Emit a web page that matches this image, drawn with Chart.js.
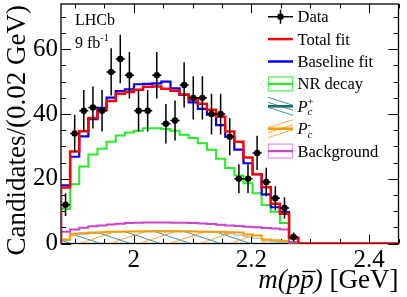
<!DOCTYPE html>
<html><head><meta charset="utf-8">
<script src="https://cdn.jsdelivr.net/npm/chart.js@4.4.0/dist/chart.umd.min.js"></script>
<style>html,body{margin:0;padding:0;background:#fff;}#wrap{width:407px;height:297px;}</style>
</head><body><div id="wrap"><canvas id="c" width="407" height="297"></canvas></div>
<script>
// ---- binning (GeV) ----
const binLow = 1.8765, binWidth = 0.0155;
// ---- tick labels ----
const xTickLabels = [2, 2.2, 2.4];
const yTickLabels = [0, 20, 40, 60];
const xMinorStep = 0.05, yMinorStep = 5;
// ---- data (candidates per bin) ----
const dataCounts = [12, 34, 41, 42, 41, 53, 57, 52, 41, 41, 52, 37, 38, 49, 45, 45, 40, 40, 33, 20, 20, 28, 19, 14, 11, 2];
const dataErrors = [3.5, 5.8, 6.4, 6.5, 6.4, 7.3, 7.5, 7.2, 6.4, 6.4, 7.2, 6.1, 6.2, 7.0, 6.7, 6.7, 6.3, 6.3, 5.7, 4.5, 4.5, 5.3, 4.4, 3.7, 3.3, 1.4];
// ---- fit components ----
const totalFit = [17.3, 28.4, 34.7, 38.8, 41.2, 44.0, 46.3, 46.8, 47.5, 48.4, 48.5, 47.8, 47.2, 46.0, 44.5, 43.2, 41.3, 39.2, 34.6, 31.4, 26.6, 21.4, 17.4, 12.3, 9.2, 1.7, 0, 0, 0, 0, 0, 0, 0, 0, 0, 0, 0];
const baselineFit = [18.0, 26.8, 33.1, 38.4, 41.9, 45.1, 47.1, 47.6, 49.2, 49.3, 49.5, 50.0, 47.9, 45.9, 43.6, 41.6, 39.8, 36.6, 33.0, 29.0, 24.8, 21.4, 15.2, 11.2, 9.7, 1.7];
const nrDecay = [10.7, 18.3, 23.8, 27.5, 29.3, 31.4, 33.4, 34.3, 34.8, 35.6, 35.6, 35.4, 34.8, 33.6, 32.6, 31.0, 29.0, 26.2, 23.3, 21.0, 18.6, 15.5, 11.9, 9.8, 6.3, 1.5];
const pcPlus = [0.9, 2.6, 2.9, 3.1, 3.3, 3.5, 3.6, 3.7, 3.8, 3.9, 4.0, 4.0, 4.0, 3.9, 3.8, 3.7, 3.5, 3.3, 3.0, 2.6, 2.2, 1.6, 0.8, 0.5, 0.3, 0.1];
const pcMinus = [1.2, 3.0, 3.2, 3.4, 3.5, 3.6, 3.6, 3.7, 3.7, 3.7, 3.7, 3.7, 3.7, 3.7, 3.7, 3.6, 3.6, 3.6, 3.5, 3.4, 2.8, 2.5, 1.2, 1.0, 0.8, 0.2];
const background = [3.6, 4.3, 4.9, 5.3, 5.6, 5.9, 6.1, 6.3, 6.4, 6.5, 6.5, 6.5, 6.4, 6.4, 6.3, 6.2, 6.0, 5.8, 5.6, 5.4, 5.2, 5.0, 4.8, 4.6, 4.3, 0.5];

const FONT = '"Liberation Serif", "Times New Roman", serif';

function stepPoints(vals) {
  const pts = [{x: binLow, y: 0}];
  vals.forEach((v, i) => {
    const a = binLow + i * binWidth, b = a + binWidth;
    pts.push({x: a, y: v}, {x: b, y: v});
  });
  pts.push({x: binLow + vals.length * binWidth, y: 0});
  return pts;
}
const dataPoints = dataCounts.map((v, i) => ({x: binLow + (i + 0.5) * binWidth, y: v}));

const mainCtx = document.getElementById('c').getContext('2d');
function hatch(color, up) {
  const c = document.createElement('canvas'); c.width = 30; c.height = 10;
  const g = c.getContext('2d'); g.strokeStyle = color; g.lineWidth = 1;
  g.beginPath();
  for (const off of [-30, 0, 30]) {
    if (up) { g.moveTo(off, 10); g.lineTo(off + 30, 0); }
    else { g.moveTo(off, 0); g.lineTo(off + 30, 10); }
  }
  g.stroke();
  return mainCtx.createPattern(c, 'repeat');
}
const tealHatch = hatch('#3a9898', false);
const orangeHatch = hatch('#ffa640', true);

const histLine = (label, vals, color, w, extra) => Object.assign({
  type: 'line', label, data: stepPoints(vals), borderColor: color, borderWidth: w,
  pointRadius: 0, tension: 0, fill: false, borderJoinStyle: 'miter'
}, extra || {});

const frameTicks = {
  id: 'frameTicks',
  beforeDatasetsDraw(chart) {
    const {ctx, chartArea: a, scales: {x, y}} = chart;
    ctx.save();
    ctx.strokeStyle = '#000'; ctx.lineWidth = 1.3;
    ctx.strokeRect(a.left, a.top, a.right - a.left, a.bottom - a.top);
    ctx.lineWidth = 1;
    ctx.beginPath();
    for (let k = Math.ceil(x.min / xMinorStep - 1e-9); k * xMinorStep <= x.max + 1e-9; k++) {
      const v = k * xMinorStep, px = Math.round(x.getPixelForValue(v)) + 0.5;
      const L = xTickLabels.some(t => Math.abs(t - v) < 1e-6) ? 9 : 4.5;
      ctx.moveTo(px, a.bottom); ctx.lineTo(px, a.bottom - L);
      ctx.moveTo(px, a.top); ctx.lineTo(px, a.top + L);
    }
    for (let k = Math.ceil(y.min / yMinorStep); k * yMinorStep <= y.max + 1e-9; k++) {
      const v = k * yMinorStep, py = Math.round(y.getPixelForValue(v)) + 0.5;
      const L = yTickLabels.includes(v) ? 10 : 5;
      ctx.moveTo(a.left, py); ctx.lineTo(a.left + L, py);
      ctx.moveTo(a.right, py); ctx.lineTo(a.right - L, py);
    }
    ctx.stroke();
    ctx.restore();
  }
};

const errorBars = {
  id: 'errorBars',
  afterDatasetsDraw(chart) {
    const {ctx, scales: {x, y}} = chart;
    ctx.save(); ctx.strokeStyle = '#000'; ctx.lineWidth = 1.5;
    ctx.beginPath();
    dataCounts.forEach((v, i) => {
      const xc = binLow + (i + 0.5) * binWidth;
      const px = x.getPixelForValue(xc);
      ctx.moveTo(px, y.getPixelForValue(v - dataErrors[i]));
      ctx.lineTo(px, y.getPixelForValue(v + dataErrors[i]));
      ctx.moveTo(x.getPixelForValue(xc - binWidth / 2), y.getPixelForValue(v));
      ctx.lineTo(x.getPixelForValue(xc + binWidth / 2), y.getPixelForValue(v));
    });
    ctx.stroke(); ctx.restore();
  }
};

const texts = {
  id: 'texts',
  afterDraw(chart) {
    const {ctx, chartArea: a} = chart;
    ctx.save();
    ctx.fillStyle = '#000'; ctx.textBaseline = 'alphabetic'; ctx.textAlign = 'left';
    // LHCb label
    ctx.font = '16px ' + FONT;
    ctx.fillText('LHCb', a.left + 14, a.top + 21);
    ctx.fillText('9 fb', a.left + 14, a.top + 44);
    const w9 = ctx.measureText('9 fb').width;
    ctx.font = '10px ' + FONT;
    ctx.fillText('-1', a.left + 14 + w9, a.top + 37);
    // y title
    ctx.save();
    ctx.translate(25, a.top + 1); ctx.rotate(-Math.PI / 2);
    ctx.font = '27px ' + FONT; ctx.textAlign = 'right';
    ctx.fillText('Candidates/(0.02 GeV)', 0, 0);
    ctx.restore();
    // x title
    const base = 288;
    ctx.font = '27px ' + FONT;
    const wUp = ctx.measureText(' [GeV]').width;
    ctx.fillText(' [GeV]', a.right - wUp, base);
    ctx.font = 'italic 27px ' + FONT;
    const w1 = ctx.measureText('m(p').width, w2 = ctx.measureText('p').width, w3 = ctx.measureText(')').width;
    const s = a.right - wUp - w3 - w2 - w1;
    ctx.fillText('m(p', s, base);
    ctx.fillText('p', s + w1, base);
    ctx.fillText(')', s + w1 + w2, base);
    ctx.strokeStyle = '#000'; ctx.lineWidth = 1.3;
    ctx.beginPath(); ctx.moveTo(s + w1 + 2, base - 16.5); ctx.lineTo(s + w1 + w2 + 2, base - 16.5); ctx.stroke();
    // legend
    const labels = ['Data', 'Total fit', 'Baseline fit', 'NR decay', 'Pc+', 'Pc-', 'Background'];
    const x0 = a.right - 130.5, x1 = a.right - 105.5, tx = a.right - 101;
    labels.forEach((lab, i) => {
      const yc = a.top + 12.7 + i * 22.4;
      ctx.save();
      if (lab === 'Data') {
        ctx.strokeStyle = '#000'; ctx.lineWidth = 1.5;
        ctx.beginPath(); ctx.moveTo(x0, yc); ctx.lineTo(x1, yc);
        ctx.moveTo((x0 + x1) / 2, yc - 7); ctx.lineTo((x0 + x1) / 2, yc + 7); ctx.stroke();
        ctx.fillStyle = '#000'; ctx.beginPath(); ctx.arc((x0 + x1) / 2, yc, 3.2, 0, 2 * Math.PI); ctx.fill();
      } else if (lab === 'Total fit' || lab === 'Baseline fit') {
        ctx.strokeStyle = lab === 'Total fit' ? '#ff0000' : '#0000ff'; ctx.lineWidth = 2.5;
        ctx.beginPath(); ctx.moveTo(x0, yc); ctx.lineTo(x1, yc); ctx.stroke();
      } else if (lab === 'NR decay' || lab === 'Background') {
        const main = lab === 'NR decay' ? '#22ee22' : '#cc44cc';
        const light = lab === 'NR decay' ? '#55f055' : '#e49ae4';
        ctx.strokeStyle = light; ctx.lineWidth = 1.3;
        ctx.strokeRect(x0 + 0.5, yc - 7, x1 - x0 - 1, 14);
        ctx.strokeStyle = main; ctx.lineWidth = 2.2;
        ctx.beginPath(); ctx.moveTo(x0, yc); ctx.lineTo(x1, yc); ctx.stroke();
      } else {
        const plus = lab === 'Pc+';
        ctx.strokeStyle = plus ? '#3a9898' : '#ffa640'; ctx.lineWidth = 1;
        ctx.beginPath();
        for (const d of [-5, 0, 5]) {
          if (plus) { ctx.moveTo(x0, yc + d - 4); ctx.lineTo(x1, yc + d + 4); }
          else { ctx.moveTo(x0, yc + d + 4); ctx.lineTo(x1, yc + d - 4); }
        }
        ctx.stroke();
        ctx.strokeStyle = plus ? '#1b6e6e' : '#ff9900'; ctx.lineWidth = 2.6;
        ctx.beginPath(); ctx.moveTo(x0, yc); ctx.lineTo(x1, yc); ctx.stroke();
      }
      ctx.restore();
      ctx.fillStyle = '#000'; ctx.textBaseline = 'alphabetic';
      if (lab === 'Pc+' || lab === 'Pc-') {
        ctx.font = 'italic 16.5px ' + FONT;
        ctx.fillText('P', tx, yc + 5.5);
        const wp = ctx.measureText('P').width;
        ctx.font = 'italic 11px ' + FONT;
        ctx.fillText('c', tx + wp, yc + 9);
        ctx.font = '11px ' + FONT;
        ctx.fillText(lab === 'Pc+' ? '+' : '-', tx + wp, yc - 1);
      } else {
        ctx.font = '16.5px ' + FONT;
        ctx.fillText(lab, tx, yc + 5.5);
      }
    });
    ctx.restore();
  }
};

new Chart(mainCtx, {
  data: {
    datasets: [
      {type: 'line', label: 'Data', data: dataPoints, showLine: false, pointRadius: 3.2,
       pointBackgroundColor: '#000', pointBorderColor: '#000', pointBorderWidth: 0, order: 0},
      histLine('Total fit', totalFit, '#ff0000', 2.5, {order: 1}),
      histLine('Baseline fit', baselineFit, '#0000ff', 2.2, {order: 2}),
      histLine('NR decay', nrDecay, '#22ee22', 2, {order: 3}),
      histLine('Background', background, '#cc44cc', 2, {order: 4}),
      histLine('Pc-', pcMinus, '#ff9900', 2, {order: 5, fill: 'origin', backgroundColor: orangeHatch}),
      histLine('Pc+', pcPlus, '#7fbcbc', 1, {order: 6, fill: 'origin', backgroundColor: tealHatch})
    ]
  },
  options: {
    responsive: false, animation: false, devicePixelRatio: 1, events: [],
    layout: {padding: {top: 4, right: 8.5, left: 0, bottom: 0}},
    plugins: {legend: {display: false}, tooltip: {enabled: false}},
    scales: {
      x: {
        type: 'linear', min: binLow, max: binLow + 37 * binWidth,
        grid: {display: false, drawTicks: false}, border: {display: false},
        afterBuildTicks: s => { s.ticks = xTickLabels.map(v => ({value: v})); },
        afterFit: s => { s.height = 53.5; s.paddingLeft = 0; s.paddingRight = 0; },
        ticks: {color: '#000', font: {family: FONT, size: 25}, padding: 2, maxRotation: 0,
                callback: v => String(v)}
      },
      y: {
        type: 'linear', min: 0, max: 74,
        grid: {display: false, drawTicks: false}, border: {display: false},
        afterBuildTicks: s => { s.ticks = yTickLabels.map(v => ({value: v})); },
        afterFit: s => { s.width = 61; s.paddingTop = 0; s.paddingBottom = 0; },
        ticks: {color: '#000', font: {family: FONT, size: 25}, padding: 3, callback: v => String(v)}
      }
    }
  },
  plugins: [frameTicks, errorBars, texts]
});
</script>
</body></html>
